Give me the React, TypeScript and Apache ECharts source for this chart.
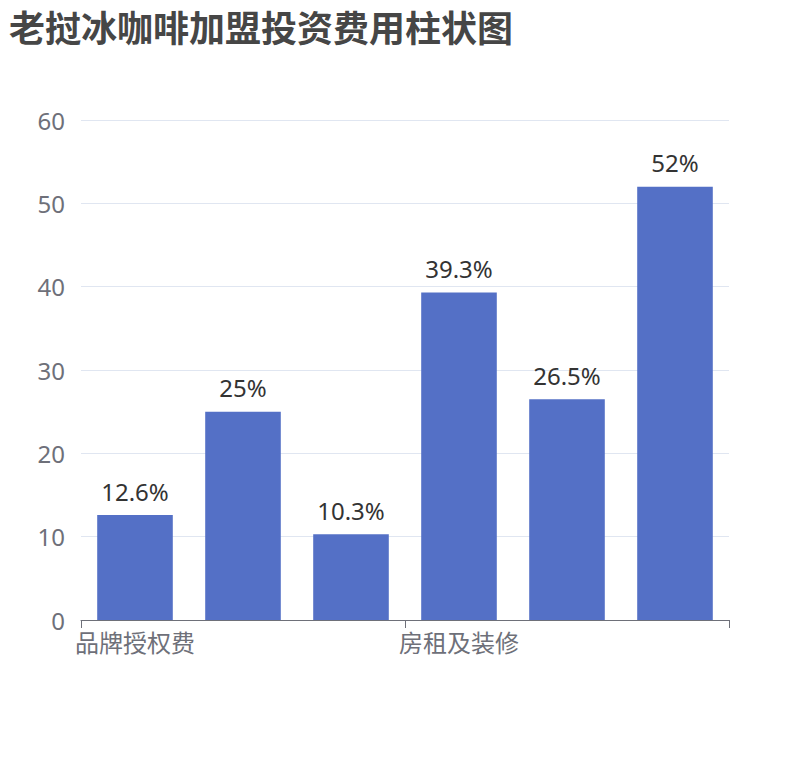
import React, { useEffect, useRef } from "react";
import * as echarts from "echarts";

const TITLE = "老挝冰咖啡加盟投资费用柱状图";
const categories = ["品牌授权费", "设备采购费", "首批原料费", "房租及装修", "人员培训费", "流动资金"];
const values = [12.6, 25, 10.3, 39.3, 26.5, 52];
const yTicks = { min: 0, max: 60, interval: 10 };

export default function App() {
  const ref = useRef<HTMLDivElement>(null);
  useEffect(() => {
    const chart = echarts.init(ref.current!, null, { renderer: "svg" });
    chart.setOption({
      animation: false,
      textStyle: { fontFamily: "'Noto Sans', 'Noto Sans CJK SC', sans-serif" },
      title: {
        text: TITLE,
        left: 1,
        top: 2,
        padding: 0,
        textStyle: { fontSize: 36, fontWeight: "bold", color: "#464646" },
      },
      grid: { left: 73, right: 73, top: 112, bottom: 132 },
      xAxis: {
        type: "category",
        data: categories,
        axisLabel: { interval: 2, fontSize: 24, color: "#6E7079", margin: 10 },
        axisLine: { show: true, lineStyle: { color: "#6E7079" } },
        axisTick: { show: true, interval: 2, length: 8, lineStyle: { color: "#6E7079" } },
      },
      yAxis: {
        type: "value",
        min: yTicks.min,
        max: yTicks.max,
        interval: yTicks.interval,
        axisLabel: { fontSize: 24, color: "#6E7079", margin: 16, padding: [0, 0, 8, 0] },
        splitLine: { lineStyle: { color: "#E0E6F1" } },
      },
      series: [
        {
          type: "bar",
          data: values,
          barCategoryGap: "30%",
          itemStyle: { color: "#5470c6" },
          label: {
            show: true,
            position: "top",
            formatter: "{c}%",
            fontSize: 24,
            color: "#333",
            distance: 12,
          },
        },
      ],
    });
    return () => chart.dispose();
  }, []);
  return <div ref={ref} style={{ width: 794, height: 744 }} />;
}
